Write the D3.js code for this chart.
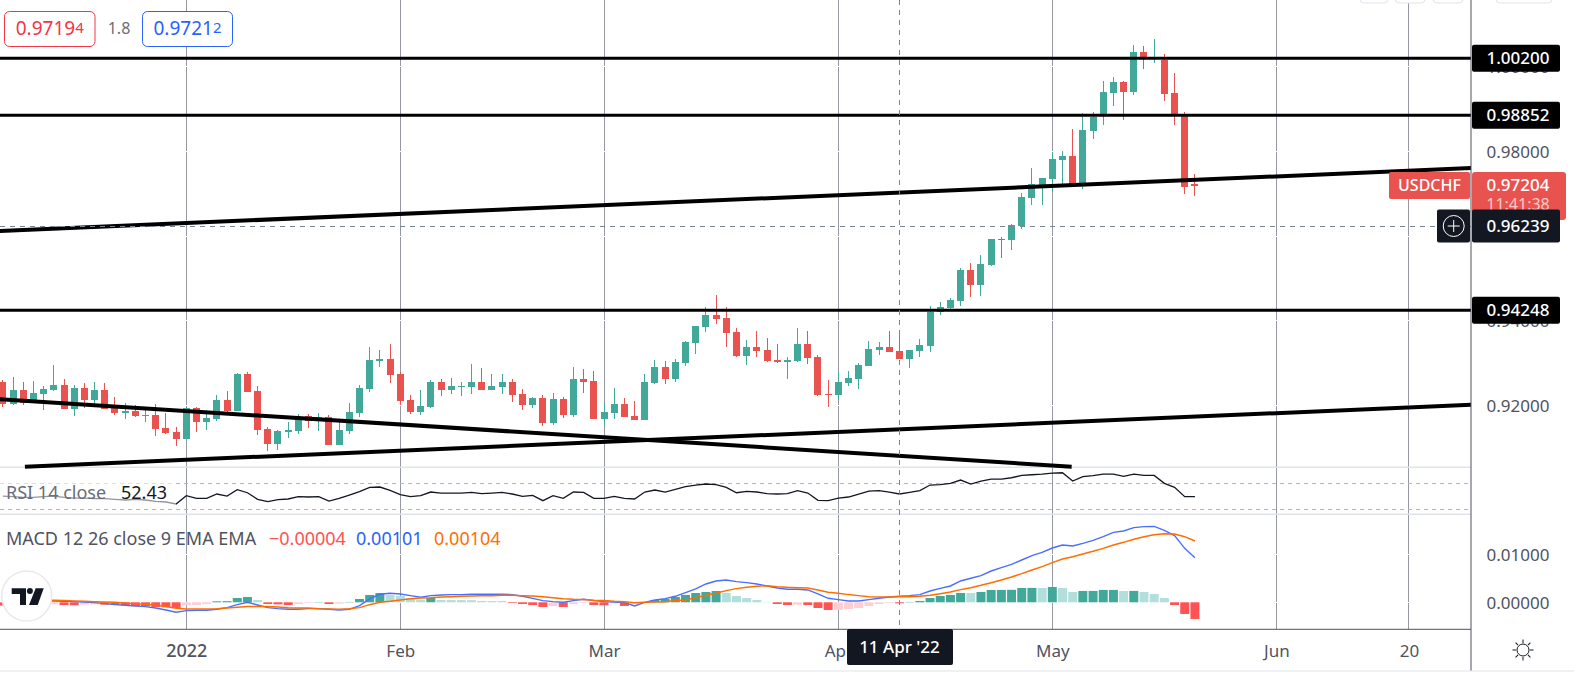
<!DOCTYPE html>
<html>
<head>
<meta charset="utf-8">
<style>
html, body { margin: 0; padding: 0; background: #fff; }
svg { display: block; }
text { font-family: "Noto Sans", sans-serif; }
</style>
<script src="https://cdn.jsdelivr.net/npm/d3@7"></script>
</head>
<body>
<svg id="chart" width="1574" height="678"></svg>
<script>
'use strict';

// bar number of the first candle, bar 0 is 3 Jan 2022 (business days only)
var FIRST_BAR = -18;

var opens = [
    .92555, .92035, .92366, .92082, .92271, .92366, .92484, .91917, .92413, .92130,
    .92366, .92012, .91823, .91870, .91752, .91775, .91468, .91374, .91209, .91941,
    .91610, .91681, .92130, .91870, .92744, .92342, .91445, .91090, .91374, .91398,
    .91752, .91705, .91728, .91067, .91398, .91823, .92390, .93051, .93098, .92744,
    .92130, .91846, .91964, .92555, .92366, .92437, .92437, .92555, .92366, .92437,
    .92555, .92271, .92012, .92177, .91586, .92153, .91775, .92626, .92578, .91681,
    .91823, .92035, .91752, .91657, .92531, .92909, .92626, .93004, .93476, .93854,
    .94137, .94066, .93736, .93169, .93382, .93311, .93074, .93027, .93051, .93452,
    .93145, .92271, .92248, .92531, .92626, .92933, .93311, .93382, .93287, .93098,
    .93287, .93405, .94208, .94303, .94468, .95200, .94846, .95318, .95932, .95909,
    .96239, .96901, .97208, .97349, .97798, .97893, .97231, .98483, .98861, .99381,
    .99640, .99404, 1.00348, 1.00183, 1.00159, .99380, .98837, .97231
];
var highs = [
    .92602, .92673, .92555, .92578, .92460, .92956, .92626, .92484, .92531, .92555,
    .92531, .92201, .92059, .92012, .91893, .92035, .91823, .91492, .91964, .91964,
    .91893, .92248, .92342, .92767, .92791, .92460, .91492, .91421, .91610, .91799,
    .91799, .91823, .91775, .91610, .92059, .92484, .93382, .93311, .93452, .92791,
    .92248, .92366, .92602, .92626, .92649, .92555, .92980, .92886, .92744, .92744,
    .92626, .92390, .92201, .92248, .92295, .92201, .92909, .92862, .92815, .92059,
    .92413, .92177, .92106, .92744, .93074, .93051, .93098, .93523, .93877, .94326,
    .94610, .94326, .93830, .93547, .93759, .93594, .93452, .93145, .93830, .93759,
    .93193, .92602, .92799, .92815, .93004, .93523, .93500, .93759, .93736, .93311,
    .93571, .94350, .94444, .94539, .95247, .95366, .95554, .95932, .95980, .96287,
    .97019, .97609, .97373, .97987, .98011, .98530, .98908, .98932, .99664, .99759,
    .99664, 1.00514, 1.00490, 1.00655, 1.00301, .99852, .98931, .97467
];
var lows = [
    .91972, .92012, .92012, .92067, .91893, .92342, .91917, .91752, .91941, .92035,
    .91917, .91775, .91681, .91728, .91610, .91279, .91327, .91043, .91209, .91374,
    .91421, .91634, .91823, .91870, .92319, .91303, .90925, .90949, .91232, .91327,
    .91468, .91398, .91067, .91067, .91327, .91728, .92319, .92909, .92531, .92012,
    .91799, .91775, .91941, .92224, .92271, .92224, .92271, .92366, .92366, .92271,
    .92082, .91893, .91941, .91516, .91539, .91705, .91728, .92295, .91681, .91516,
    .91681, .91728, .91657, .91657, .92508, .92508, .92555, .92933, .93216, .93736,
    .93925, .93382, .93145, .92956, .93145, .93027, .93004, .92626, .93027, .92980,
    .92224, .91964, .92130, .92460, .92390, .92933, .93193, .93263, .93098, .92886,
    .93145, .93263, .94137, .94279, .94350, .94562, .94586, .95294, .95484, .95673,
    .96168, .96735, .96735, .97042, .97231, .97231, .97113, .98294, .98625, .99073,
    .98743, .99333, .99947, 1.00088, .99191, .98624, .96995, .96947
];
var closes = [
    .92043, .92366, .92067, .92295, .92390, .92484, .91917, .92413, .92130, .92366,
    .91917, .91823, .91870, .91752, .91775, .91445, .91350, .91209, .91941, .91610,
    .91705, .92130, .91870, .92744, .92319, .91421, .91090, .91398, .91421, .91681,
    .91634, .91728, .91067, .91421, .91846, .92413, .93074, .93098, .92720, .92106,
    .91846, .91988, .92555, .92366, .92460, .92460, .92555, .92366, .92460, .92555,
    .92248, .92012, .92177, .91586, .92153, .91775, .92626, .92555, .91681, .91846,
    .92035, .91728, .91657, .92555, .92909, .92626, .93027, .93500, .93877, .94137,
    .94043, .93712, .93169, .93382, .93287, .93051, .93027, .93074, .93452, .93122,
    .92248, .92248, .92555, .92649, .92956, .93334, .93382, .93263, .93098, .93311,
    .93429, .94208, .94326, .94492, .95200, .94846, .95342, .95932, .95909, .96263,
    .96924, .97231, .97373, .97822, .97893, .97231, .98507, .98814, .99404, .99640,
    .99404, 1.00348, 1.00222, 1.00207, .99356, .98860, .97160, .97183
];

var keyLevels = [1.002, .98852, .94248];
// bar, price pairs read at the ends of the drawn lines
var trendLines = [
    [[-18.3, .96121], [126.2, .97609]],
    [[-18.3, .92146], [86.9, .90554]],
    [[-15.84, .90552], [126.2, .92018]]
];

var rsiValues = [
    50.7, 49.7, 48.7, 48.7, 49.7, 50.7, 48.7, 47.6, 47.6, 46.6, 46.6, 45.5, 44.5, 45.5, 44.5, 42.4, 41.4, 38.3,
    51.3, 47.1, 47.1, 53.9, 50.7, 60.6, 55.9, 45.5, 41.9, 45, 46.1, 49.7, 49.2, 49.7, 42.9, 47.1, 52.3, 57.5,
    64.3, 64.8, 59.6, 52.8, 49.7, 51.3, 57, 55.4, 55.4, 55.4, 56.5, 54.4, 55.4, 56.5, 53.9, 50.2, 51.8, 43.5,
    51.3, 47.1, 57, 56.5, 47.1, 47.1, 50.2, 47.1, 46.1, 57, 60.1, 57, 61.1, 65.3, 67.9, 69.5, 68.4, 64.3, 55.9,
    58, 57, 54.4, 53.9, 54.4, 59.1, 55.4, 44, 43.5, 47.6, 49.2, 53.9, 58.5, 59.1, 57, 53.9, 56.5, 59.1, 67.9,
    68.4, 70.5, 75.7, 69.5, 74.1, 77.3, 77.3, 79.3, 83, 84, 85.1, 86.6, 87.1, 74.1, 80.9, 82.5, 85.1, 85.1,
    81.4, 85.1, 83, 83, 70.5, 64.3, 49.7, 49.7
];

// MACD panel values are in units of 0.00001
var macdLine = [
    62, 56, 49, 42, 35, 28, 21, 14, 7, -7, -28, -49, -62, -76, -90, -118, -160, -208,
    -174, -167, -167, -146, -111, -49, 0, -56, -111, -132, -146, -146, -132, -132, -146, -160, -146, -69,
    69, 167, 187, 174, 139, 104, 139, 153, 160, 160, 167, 167, 167, 167, 160, 125, 83, 35,
    14, 0, 35, 62, 35, 14, 7, -7, -76, 0, 49, 76, 125, 201, 278, 382, 444, 465, 430,
    409, 382, 340, 298, 271, 271, 257, 174, 83, 56, 28, 28, 56, 83, 111, 125, 139, 160, 236,
    291, 340, 444, 500, 555, 652, 722, 791, 881, 972, 1041, 1131, 1194, 1173, 1228, 1291, 1367, 1457,
    1485, 1555, 1576, 1582, 1499, 1388, 1124, 930
];
var signalLine = [
    83, 76, 69, 62, 49, 42, 35, 28, 21, 14, 7, 0, -14, -28, -42, -62, -90, -125,
    -139, -139, -139, -132, -118, -104, -90, -90, -90, -97, -111, -118, -118, -132, -139, -146, -132, -111,
    -49, 0, 21, 49, 76, 90, 97, 111, 118, 125, 132, 139, 139, 146, 146, 139, 132, 118,
    97, 76, 62, 56, 42, 35, 21, 14, -7, 0, 7, 14, 35, 49, 97, 146, 187, 243, 285,
    312, 333, 347, 326, 312, 305, 298, 257, 208, 187, 160, 139, 118, 111, 111, 118, 118, 125, 146,
    180, 215, 264, 305, 354, 409, 465, 527, 597, 673, 743, 826, 902, 951, 1006, 1062, 1124, 1194,
    1249, 1312, 1367, 1409, 1430, 1423, 1367, 1277
];
var macdHist = [
    -69, -62, -56, -62, -49, -42, -56, -62, -49, -42, -49, -56, -62, -76, -83, -97, -104, -118,
    -62, -56, -35, 21, 24, 90, 111, 49, -35, -42, -56, -35, -14, 7, -35, -28, 7, 69,
    153, 194, 153, 132, 90, 49, 90, 49, 47, 46, 44, 28, 26, 25, -14, -35, -56, -97,
    -76, -97, -35, -14, -56, -62, -21, -76, -42, 7, 49, 69, 111, 153, 194, 215, 236, 194, 132,
    90, 49, 7, -35, -56, -49, -56, -118, -160, -156, -139, -118, -76, -35, -17, -21, 7, 28, 90,
    132, 153, 194, 193, 215, 257, 258, 260, 298, 300, 298, 319, 298, 215, 236, 237, 257, 258,
    236, 237, 215, 174, 90, -56, -243, -347
];

var timeTickBars = [0, 21, 41, 64, 85, 107, 120];
var timeTickLabels = ['2022', 'Feb', 'Mar', 'Apr', 'May', 'Jun', '20'];
var priceTicks = [1.0, .98, .96, .94, .92];
var macdTicks = [0, 1000];
var crossBar = 70;
var crossPrice = .96239;
var lastPrice = .97204;

var AXIS_X = 1471;
var TEAL = '#42a89a';
var RED = '#e8534f';
var AXIS_TEXT = '#50535e';

var svg = d3.select('#chart');

var x = d3.scaleLinear().domain([0, 85]).range([186.3, 1052.3]);
var y = d3.scaleLinear().domain([1.002, .94248]).range([58.3, 310.3]);
var rsiY = d3.scaleLinear().domain([70, 30]).range([483.7, 509.3]);
var macdY = d3.scaleLinear().domain([0, 1000]).range([602.3, 554.3]);

var bars = d3.range(opens.length).map(function(i) { return FIRST_BAR + i; });

svg.append('clipPath').attr('id', 'plot-clip')
    .append('rect').attr('width', AXIS_X).attr('height', 629);

var plot = svg.append('g').attr('clip-path', 'url(#plot-clip)');

// vertical grid, white horizontal grid cuts through it
plot.selectAll('.vgrid').data(timeTickBars).enter().append('line')
    .attr('x1', x).attr('x2', x).attr('y1', 0).attr('y2', 629)
    .attr('stroke', '#9598a1').attr('stroke-width', 1)
    .attr('shape-rendering', 'crispEdges');

plot.selectAll('.hgrid').data(priceTicks.map(y).concat(macdTicks.map(macdY))).enter().append('line')
    .attr('x1', 0).attr('x2', AXIS_X).attr('y1', function(d) { return d; }).attr('y2', function(d) { return d; })
    .attr('stroke', '#fff').attr('stroke-width', 1)
    .attr('shape-rendering', 'crispEdges');

// pane separators
[467.3, 514.3].forEach(function(py) {
    plot.append('line').attr('x1', 0).attr('x2', AXIS_X).attr('y1', py).attr('y2', py)
        .attr('stroke', '#e0e3eb').attr('stroke-width', 1.5);
});

// candles
var candle = plot.selectAll('.candle').data(bars).enter().append('g');
function barColor(i) { return closes[i] > opens[i] ? TEAL : RED; }

candle.append('line')
    .attr('x1', x).attr('x2', x)
    .attr('y1', function(d, i) { return y(highs[i]); })
    .attr('y2', function(d, i) { return y(lows[i]); })
    .attr('stroke', function(d, i) { return barColor(i); })
    .attr('stroke-width', 1)
    .attr('shape-rendering', 'crispEdges');

candle.append('rect')
    .attr('x', function(d) { return x(d) - 3.5; })
    .attr('width', 7)
    .attr('y', function(d, i) { return y(Math.max(opens[i], closes[i])); })
    .attr('height', function(d, i) { return Math.max(1, Math.abs(y(opens[i]) - y(closes[i]))); })
    .attr('fill', function(d, i) { return barColor(i); })
    .attr('shape-rendering', 'crispEdges');

// drawn levels and trend lines
plot.selectAll('.level').data(keyLevels).enter().append('line')
    .attr('x1', 0).attr('x2', AXIS_X).attr('y1', y).attr('y2', y)
    .attr('stroke', '#000').attr('stroke-width', 3);

plot.selectAll('.trend').data(trendLines).enter().append('line')
    .attr('x1', function(d) { return x(d[0][0]); })
    .attr('y1', function(d) { return y(d[0][1]); })
    .attr('x2', function(d) { return x(d[1][0]); })
    .attr('y2', function(d) { return y(d[1][1]); })
    .attr('stroke', '#000').attr('stroke-width', 4);

// RSI
[70, 30].forEach(function(v) {
    plot.append('line').attr('x1', 0).attr('x2', AXIS_X).attr('y1', rsiY(v)).attr('y2', rsiY(v))
        .attr('stroke', '#b2b5be').attr('stroke-dasharray', '4 4')
        .attr('shape-rendering', 'crispEdges');
});
var rsiPath = d3.line()
    .x(function(d) { return x(d); })
    .y(function(d, i) { return rsiY(rsiValues[i]); });
plot.append('path').attr('d', rsiPath(bars)).attr('fill', 'none').attr('stroke', '#131722').attr('stroke-width', 1.3);

// MACD histogram, shade depends on rising or falling
function histColor(i) {
    var rising = i > 0 && macdHist[i] > macdHist[i - 1];
    if(macdHist[i] >= 0) return rising ? TEAL : '#b2dfdb';
    return rising ? '#ffcdd2' : '#ff5252';
}
plot.selectAll('.hist').data(bars).enter().append('rect')
    .attr('x', function(d) { return x(d) - 4.5; })
    .attr('width', 9)
    .attr('y', function(d, i) { return Math.min(macdY(0), macdY(macdHist[i])); })
    .attr('height', function(d, i) { return Math.abs(macdY(0) - macdY(macdHist[i])); })
    .attr('fill', function(d, i) { return histColor(i); });

function macdPath(values) {
    return d3.line()
        .x(function(d) { return x(d); })
        .y(function(d, i) { return macdY(values[i]); })(bars);
}
plot.append('path').attr('d', macdPath(macdLine)).attr('fill', 'none').attr('stroke', '#4a6fff').attr('stroke-width', 1.4);
plot.append('path').attr('d', macdPath(signalLine)).attr('fill', 'none').attr('stroke', '#ff6d00').attr('stroke-width', 1.5);

// crosshair
plot.append('line').attr('x1', x(crossBar) + .5).attr('x2', x(crossBar) + .5).attr('y1', 0).attr('y2', 629)
    .attr('stroke', '#758696').attr('stroke-dasharray', '5 5')
    .attr('shape-rendering', 'crispEdges');
plot.append('line').attr('x1', 0).attr('x2', AXIS_X).attr('y1', y(crossPrice)).attr('y2', y(crossPrice))
    .attr('stroke', '#758696').attr('stroke-dasharray', '5 5')
    .attr('shape-rendering', 'crispEdges');

// legend veil dims the RSI line behind its text
plot.append('rect').attr('x', 0).attr('y', 480).attr('width', 176).attr('height', 26)
    .attr('fill', '#fff').attr('opacity', .55);

// logo
var logo = svg.append('g').attr('transform', 'translate(26.7,596)');
logo.append('circle').attr('r', 25).attr('fill', '#fff').attr('stroke', '#e9e9ec').attr('stroke-width', 1.5);
logo.append('path').attr('fill', '#131722')
    .attr('d', 'M-15-7.7H-.7V9H-6.7V-2H-15Z M9-7.7H17L11 9H2.3Z');
logo.append('circle').attr('cx', 3.2).attr('cy', -5).attr('r', 3).attr('fill', '#131722');

// frame
svg.append('line').attr('x1', AXIS_X).attr('x2', AXIS_X).attr('y1', 0).attr('y2', 671)
    .attr('stroke', AXIS_TEXT).attr('stroke-width', 1);
svg.append('line').attr('x1', 0).attr('x2', AXIS_X).attr('y1', 629.3).attr('y2', 629.3)
    .attr('stroke', AXIS_TEXT).attr('stroke-width', 1);
svg.append('line').attr('x1', 0).attr('x2', 1574).attr('y1', 671).attr('y2', 671)
    .attr('stroke', '#e0e3eb').attr('stroke-width', 1);

// top toolbar pills, only their lower edge is in the frame
[[1360, 28], [1395, 30], [1433, 30], [1496, 56]].forEach(function(p) {
    svg.append('rect').attr('x', p[0]).attr('y', -12).attr('width', p[1]).attr('height', 15).attr('rx', 4)
        .attr('fill', '#fff').attr('stroke', '#e0e3eb');
});

// axes
function styleAxis(g) {
    g.select('.domain').remove();
    g.selectAll('.tick line').remove();
    g.selectAll('text')
        .attr('x', 47).attr('dy', '.34em').attr('text-anchor', 'middle')
        .attr('fill', AXIS_TEXT).style('font-size', '17px');
}
svg.append('g').attr('transform', 'translate(' + AXIS_X + ',0)')
    .call(d3.axisRight(y).tickValues(priceTicks).tickFormat(d3.format('.5f')))
    .call(styleAxis);
svg.append('g').attr('transform', 'translate(' + AXIS_X + ',0)')
    .call(d3.axisRight(macdY).tickValues(macdTicks).tickFormat(function(d) { return (d / 1e5).toFixed(5); }))
    .call(styleAxis);

var timeAxis = svg.append('g').attr('transform', 'translate(0,629)')
    .call(d3.axisBottom(x).tickValues(timeTickBars).tickFormat(function(d, i) { return timeTickLabels[i]; }));
timeAxis.select('.domain').remove();
timeAxis.selectAll('.tick line').remove();
timeAxis.selectAll('text').attr('y', 22).attr('dy', '.34em').attr('fill', AXIS_TEXT).style('font-size', '17px');
timeAxis.selectAll('.tick text').filter(function(d) { return d === 0; })
    .style('font-size', '18px').style('font-weight', 500);

// crosshair time label
svg.append('rect').attr('x', 847).attr('y', 629).attr('width', 106).attr('height', 36).attr('rx', 2).attr('fill', '#131722');
svg.append('text').attr('x', x(crossBar)).attr('y', 647).attr('dy', '.34em').attr('text-anchor', 'middle')
    .attr('fill', '#fff').style('font-size', '17px').style('font-weight', 500).text("11 Apr '22");

// price tags
function priceTag(value, fill, textFill, top, h) {
    svg.append('rect').attr('x', 1472).attr('y', top).attr('width', 88).attr('height', h).attr('rx', 2).attr('fill', fill);
    svg.append('text').attr('x', 1518).attr('y', y(value)).attr('dy', '.34em').attr('text-anchor', 'middle')
        .attr('fill', textFill).style('font-size', '17px').style('font-weight', 500).text(value.toFixed(5));
}

// last price tag with the symbol and the countdown
svg.append('rect').attr('x', 1389).attr('y', 172).attr('width', 81).attr('height', 27).attr('rx', 2).attr('fill', RED);
svg.append('text').attr('x', 1429.5).attr('y', 185.5).attr('dy', '.34em').attr('text-anchor', 'middle')
    .attr('fill', '#fff').style('font-size', '16px').style('font-weight', 500).text('USDCHF');
svg.append('rect').attr('x', 1472).attr('y', 172).attr('width', 94).attr('height', 48).attr('rx', 3).attr('fill', RED);
svg.append('text').attr('x', 1518).attr('y', 185.5).attr('dy', '.34em').attr('text-anchor', 'middle')
    .attr('fill', '#fff').style('font-size', '17px').style('font-weight', 500).text(lastPrice.toFixed(5));
svg.append('text').attr('x', 1518).attr('y', 205).attr('dy', '.34em').attr('text-anchor', 'middle')
    .attr('fill', '#f8c9c7').style('font-size', '16px').text('11:41:38');

keyLevels.forEach(function(v) {
    priceTag(v, '#000', '#fff', y(v) - 13.5, 27);
});
priceTag(crossPrice, '#131722', '#fff', y(crossPrice) - 16.5, 33);

// add-alert button beside the crosshair price
svg.append('rect').attr('x', 1437).attr('y', y(crossPrice) - 16.5).attr('width', 33).attr('height', 33).attr('rx', 2).attr('fill', '#131722');
svg.append('circle').attr('cx', 1453.7).attr('cy', y(crossPrice)).attr('r', 10.5).attr('fill', 'none').attr('stroke', '#fff');
svg.append('path').attr('d', 'M1447.7 ' + y(crossPrice) + 'h12M1453.7 ' + (y(crossPrice) - 6) + 'v12').attr('stroke', '#fff').attr('fill', 'none');

// settings icon
var gear = svg.append('g').attr('transform', 'translate(1523,650)').attr('stroke', '#131722').attr('fill', 'none');
gear.append('circle').attr('r', 6);
d3.range(8).forEach(function(k) {
    gear.append('line').attr('x1', 0).attr('x2', 0).attr('y1', -7).attr('y2', -10.5)
        .attr('transform', 'rotate(' + k * 45 + ')');
});

// bid, spread, ask boxes
function quoteBox(left, w, color, main, small) {
    svg.append('rect').attr('x', left).attr('y', 11.5).attr('width', w).attr('height', 35).attr('rx', 5)
        .attr('fill', '#fff').attr('stroke', color);
    var t = svg.append('text').attr('x', left + w / 2).attr('y', 29).attr('dy', '.34em').attr('text-anchor', 'middle')
        .attr('fill', color).style('font-size', '19px').text(main);
    t.append('tspan').attr('dy', '-2').style('font-size', '15px').text(small);
}
quoteBox(4.5, 90.5, '#f23645', '0.9719', '4');
quoteBox(142.5, 90, '#2962ff', '0.9721', '2');
svg.append('text').attr('x', 119).attr('y', 29).attr('dy', '.34em').attr('text-anchor', 'middle')
    .attr('fill', '#6a6d78').style('font-size', '16px').text('1.8');

// pane legends
function legend(px, py, color, str) {
    svg.append('text').attr('x', px).attr('y', py).attr('dy', '.34em').attr('fill', color).style('font-size', '18px').text(str);
}
legend(6, 493, '#6a6d78', 'RSI 14 close');
legend(121, 493, '#131722', '52.43');
legend(6, 539, '#50535e', 'MACD 12 26 close 9 EMA EMA');
legend(269, 539, '#ff5252', '\u22120.00004');
legend(356, 539, '#2962ff', '0.00101');
legend(434, 539, '#ff6d00', '0.00104');
</script>
</body>
</html>
